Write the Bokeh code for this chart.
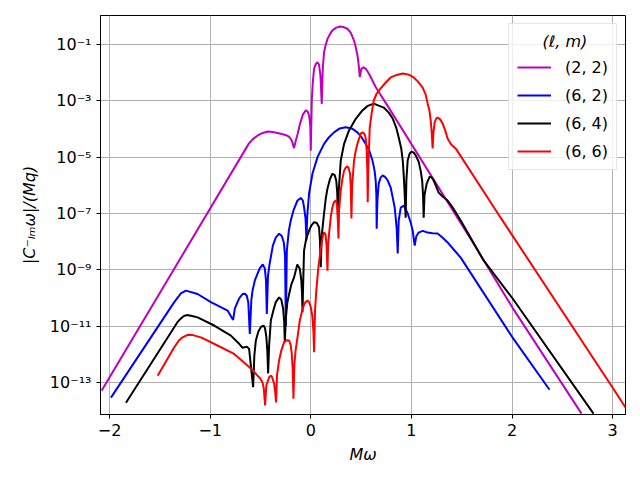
from bokeh.plotting import figure
from bokeh.models import Range1d, FixedTicker, CustomJSTickFormatter
from bokeh.embed import file_html
from bokeh.resources import INLINE

# Values: (M*omega, log10 |C|/(Mq))
c22 = [(-2.078, -13.29), (-0.616, -4.52), (-0.576, -4.36), (-0.527, -4.23), (-0.477, -4.14),
       (-0.427, -4.09), (-0.377, -4.11), (-0.288, -4.18), (-0.238, -4.23), (-0.209, -4.30),
       (-0.189, -4.41), (-0.166, -4.68), (-0.149, -4.41), (-0.129, -4.16), (-0.109, -3.84),
       (-0.079, -3.49), (-0.050, -3.34), (-0.030, -3.38), (-0.015, -3.56), (-0.005, -3.88),
       (0.000, -4.77), (0.010, -2.99), (0.020, -2.34), (0.033, -1.86), (0.050, -1.69),
       (0.067, -1.63), (0.082, -1.72), (0.096, -2.10), (0.109, -3.11), (0.119, -1.86),
       (0.132, -1.27), (0.149, -1.01), (0.166, -0.80), (0.189, -0.64), (0.215, -0.50),
       (0.248, -0.41), (0.291, -0.36), (0.331, -0.39), (0.364, -0.44), (0.397, -0.58),
       (0.430, -0.86), (0.447, -1.10), (0.464, -1.39), (0.477, -1.75), (0.487, -2.16),
       (0.503, -1.86), (0.523, -1.81), (0.546, -1.86), (0.579, -2.04), (0.646, -2.52),
       (0.762, -3.17), (1.599, -7.96), (2.009, -10.37), (2.691, -14.11)]

c62 = [(-1.986, -13.54), (-1.357, -10.15), (-1.291, -9.84), (-1.241, -9.74), (-1.125, -9.86),
       (-0.993, -10.15), (-0.894, -10.33), (-0.827, -10.45), (-0.772, -10.78), (-0.755, -10.38),
       (-0.728, -10.15), (-0.710, -10.01), (-0.678, -9.86), (-0.655, -9.85), (-0.636, -9.92),
       (-0.621, -10.16), (-0.606, -11.28), (-0.591, -10.09), (-0.579, -9.74), (-0.556, -9.38),
       (-0.529, -9.14), (-0.506, -8.94), (-0.477, -8.81), (-0.457, -8.95), (-0.445, -9.38),
       (-0.437, -10.57), (-0.425, -9.21), (-0.412, -8.85), (-0.377, -8.14), (-0.348, -7.86),
       (-0.315, -7.72), (-0.288, -7.80), (-0.268, -8.03), (-0.256, -8.49), (-0.248, -11.00),
       (-0.238, -8.32), (-0.218, -7.61), (-0.199, -7.25), (-0.169, -6.86), (-0.132, -6.54),
       (-0.099, -6.45), (-0.079, -6.54), (-0.067, -6.78), (-0.052, -7.18), (-0.043, -7.96),
       (-0.035, -7.07), (-0.017, -6.29), (0.017, -5.58), (0.067, -5.00), (0.132, -4.53),
       (0.179, -4.30), (0.231, -4.12), (0.288, -3.98), (0.348, -3.94), (0.407, -3.98),
       (0.464, -4.12), (0.506, -4.30), (0.546, -4.53), (0.581, -4.77), (0.613, -5.12),
       (0.634, -5.48), (0.645, -5.83), (0.652, -6.36), (0.655, -7.54), (0.662, -6.54),
       (0.675, -5.94), (0.695, -5.72), (0.715, -5.65), (0.740, -5.71), (0.765, -5.83),
       (0.794, -6.08), (0.814, -6.43), (0.834, -6.79), (0.844, -7.15), (0.854, -7.54),
       (0.864, -8.42), (0.874, -7.25), (0.894, -6.79), (0.924, -6.72), (0.963, -7.00),
       (0.993, -7.32), (1.013, -7.61), (1.023, -7.89), (1.033, -8.14), (1.048, -7.82),
       (1.072, -7.68), (1.112, -7.62), (1.162, -7.68), (1.211, -7.70), (1.261, -7.71),
       (1.311, -7.86), (1.360, -8.03), (1.420, -8.28), (1.490, -8.57), (2.006, -11.41),
       (2.373, -13.26)]

c64 = [(-1.837, -13.72), (-1.357, -11.04), (-1.321, -10.84), (-1.291, -10.73), (-1.261, -10.64),
       (-1.231, -10.61), (-1.191, -10.63), (-1.125, -10.69), (-0.960, -10.98), (-0.794, -11.34),
       (-0.712, -11.63), (-0.678, -11.77), (-0.636, -11.73), (-0.613, -11.81), (-0.573, -13.17),
       (-0.561, -12.05), (-0.546, -11.51), (-0.521, -11.19), (-0.497, -11.04), (-0.470, -10.98),
       (-0.455, -11.07), (-0.442, -11.37), (-0.432, -11.87), (-0.424, -12.68), (-0.414, -11.69),
       (-0.397, -10.80), (-0.372, -10.45), (-0.348, -10.15), (-0.315, -9.98), (-0.293, -10.06),
       (-0.275, -10.38), (-0.265, -10.80), (-0.258, -11.57), (-0.248, -10.73), (-0.233, -10.16),
       (-0.215, -9.86), (-0.194, -9.53), (-0.166, -9.27), (-0.134, -8.81), (-0.109, -8.96),
       (-0.094, -9.38), (-0.087, -9.85), (-0.082, -10.51), (-0.076, -9.56), (-0.067, -8.32),
       (-0.045, -7.89), (-0.017, -7.61), (0.005, -7.43), (0.033, -7.31), (0.060, -7.34),
       (0.082, -7.49), (0.091, -7.96), (0.099, -8.91), (0.109, -7.78), (0.132, -7.00),
       (0.149, -6.47), (0.166, -6.11), (0.189, -5.80), (0.215, -5.59), (0.238, -5.64),
       (0.253, -5.83), (0.263, -6.26), (0.271, -7.43), (0.278, -6.19), (0.298, -5.12),
       (0.331, -4.53), (0.380, -4.05), (0.447, -3.64), (0.513, -3.34), (0.566, -3.18),
       (0.626, -3.10), (0.675, -3.17), (0.725, -3.24), (0.775, -3.42), (0.814, -3.63),
       (0.849, -3.95), (0.874, -4.30), (0.899, -4.69), (0.914, -5.12), (0.924, -5.65),
       (0.933, -6.29), (0.943, -7.15), (0.950, -5.83), (0.963, -5.12), (0.983, -4.87),
       (1.003, -4.80), (1.023, -4.84), (1.043, -4.94), (1.072, -5.16), (1.092, -5.48),
       (1.107, -5.83), (1.116, -6.36), (1.122, -7.15), (1.130, -6.36), (1.152, -5.94),
       (1.182, -5.69), (1.202, -5.72), (1.221, -5.83), (1.246, -6.04), (1.271, -6.26),
       (1.311, -6.40), (1.360, -6.54), (1.420, -6.84), (1.490, -7.25), (1.718, -8.67),
       (2.006, -10.02), (2.810, -14.11)]

c66 = [(-1.522, -12.76), (-1.357, -11.75), (-1.311, -11.51), (-1.274, -11.40), (-1.224, -11.31),
       (-1.172, -11.32), (-1.092, -11.40), (-0.927, -11.69), (-0.762, -11.99), (-0.629, -12.40),
       (-0.581, -12.56), (-0.529, -12.76), (-0.502, -12.86), (-0.480, -13.00), (-0.467, -13.22),
       (-0.454, -13.82), (-0.442, -13.11), (-0.414, -12.82), (-0.397, -12.76), (-0.387, -12.79),
       (-0.364, -13.05), (-0.353, -13.36), (-0.345, -13.71), (-0.336, -12.76), (-0.315, -12.22),
       (-0.293, -11.87), (-0.265, -11.57), (-0.238, -11.50), (-0.215, -11.51), (-0.199, -11.69),
       (-0.189, -11.99), (-0.180, -12.51), (-0.172, -13.58), (-0.164, -12.40), (-0.151, -11.87),
       (-0.132, -11.40), (-0.109, -10.80), (-0.082, -10.39), (-0.060, -10.18), (-0.033, -10.09),
       (-0.015, -10.16), (0.000, -10.33), (0.015, -10.63), (0.026, -11.16), (0.033, -11.93),
       (0.042, -10.45), (0.055, -9.74), (0.074, -8.96), (0.099, -8.25), (0.119, -7.82),
       (0.132, -7.67), (0.147, -7.75), (0.157, -8.14), (0.166, -9.03), (0.172, -8.14),
       (0.182, -7.71), (0.199, -7.11), (0.215, -6.78), (0.231, -6.59), (0.248, -6.54),
       (0.261, -6.68), (0.268, -7.07), (0.275, -7.89), (0.281, -6.90), (0.298, -6.19),
       (0.315, -5.76), (0.331, -5.48), (0.348, -5.37), (0.364, -5.33), (0.377, -5.40),
       (0.390, -5.58), (0.397, -6.01), (0.404, -7.18), (0.411, -6.01), (0.430, -5.12),
       (0.447, -4.77), (0.464, -4.52), (0.497, -4.16), (0.519, -4.12), (0.536, -4.20),
       (0.546, -4.34), (0.556, -4.77), (0.562, -5.48), (0.566, -6.60), (0.571, -5.48),
       (0.586, -3.95), (0.606, -3.42), (0.626, -2.99), (0.655, -2.74), (0.695, -2.56),
       (0.745, -2.35), (0.794, -2.17), (0.854, -2.08), (0.914, -2.03), (0.973, -2.07),
       (1.023, -2.17), (1.063, -2.31), (1.112, -2.53), (1.142, -2.78), (1.162, -3.10),
       (1.179, -3.34), (1.192, -3.70), (1.202, -4.13), (1.211, -4.69), (1.219, -4.13),
       (1.231, -3.77), (1.246, -3.63), (1.261, -3.59), (1.286, -3.66), (1.311, -3.81),
       (1.336, -4.05), (1.360, -4.34), (1.395, -4.55), (1.440, -4.69), (1.887, -7.15),
       (2.999, -13.18), (3.128, -13.89)]

labels = ["(2, 2)", "(6, 2)", "(6, 4)", "(6, 6)"]
colors = ["#bf00bf", "#0000ff", "#000000", "#ff0000"]
curves = [c22, c62, c64, c66]

x_ticks = [-2, -1, 0, 1, 2, 3]
y_ticks = [1e-13, 1e-11, 1e-9, 1e-7, 1e-5, 1e-3, 1e-1]

FONT = "DejaVu Sans"

p = figure(frame_width=525, frame_height=399, y_axis_type="log",
           x_range=Range1d(-2.09, 3.128), y_range=Range1d(10 ** -14.14, 10 ** 0.03),
           output_backend="svg", toolbar_location=None,
           min_border_left=100, min_border_right=7, min_border_top=15, min_border_bottom=58,
           background_fill_color="white", border_fill_color="white")

for label, pts, color in zip(labels, curves, colors):
    xs = [a for a, b in pts]
    ys = [10 ** b for a, b in pts]
    p.line(xs, ys, line_color=color, line_width=2, legend_label=label)

p.xaxis.ticker = FixedTicker(ticks=x_ticks, minor_ticks=[])
p.yaxis.ticker = FixedTicker(ticks=y_ticks, minor_ticks=[])
p.xaxis.formatter = CustomJSTickFormatter(code="""
return tick < 0 ? "\u2212" + Math.abs(tick) : String(tick);
""")
p.yaxis.formatter = CustomJSTickFormatter(code="""
const e = Math.round(Math.log10(tick));
const sup = {"-": "\u207b", "0": "\u2070", "1": "\u00b9", "2": "\u00b2", "3": "\u00b3",
             "4": "\u2074", "5": "\u2075", "6": "\u2076", "7": "\u2077", "8": "\u2078", "9": "\u2079"};
return "10" + String(e).split("").map(c => sup[c]).join("");
""")

for ax in (p.xaxis, p.yaxis):
    ax.major_label_text_font = FONT
    ax.major_label_text_font_size = "16px"
    ax.major_label_text_color = "black"
    ax.axis_label_text_font = FONT
    ax.axis_label_text_font_size = "16px"
    ax.axis_label_text_color = "black"
    ax.axis_label_text_font_style = "italic"
    ax.axis_line_color = "black"
    ax.major_tick_line_color = "black"
    ax.major_tick_out = 4
    ax.major_tick_in = 0
    ax.minor_tick_line_color = None

p.xaxis.axis_label = "Mω"
p.yaxis.axis_label = "|C⁻ₗₘω|/(Mq)"
p.xaxis.axis_label_standoff = 6
p.yaxis.axis_label_standoff = 8

p.grid.grid_line_color = "#b0b0b0"
p.grid.grid_line_width = 1
p.outline_line_color = "black"
p.outline_line_width = 1

lg = p.legend[0]
lg.location = "top_right"
lg.margin = 8
lg.padding = 8
lg.spacing = 8
lg.glyph_width = 34
lg.glyph_height = 20
lg.label_height = 20
lg.label_standoff = 14
lg.label_text_font = FONT
lg.label_text_font_size = "16px"
lg.label_text_color = "black"
lg.title = "\u00a0" * 5 + "(ℓ, m)"
lg.title_text_font = FONT
lg.title_text_font_size = "16px"
lg.title_text_font_style = "italic"
lg.title_text_color = "black"
lg.title_standoff = 6
lg.border_line_color = "#cccccc"
lg.border_line_width = 1
lg.background_fill_alpha = 0.8

open("out.html", "w").write(file_html(p, INLINE))
